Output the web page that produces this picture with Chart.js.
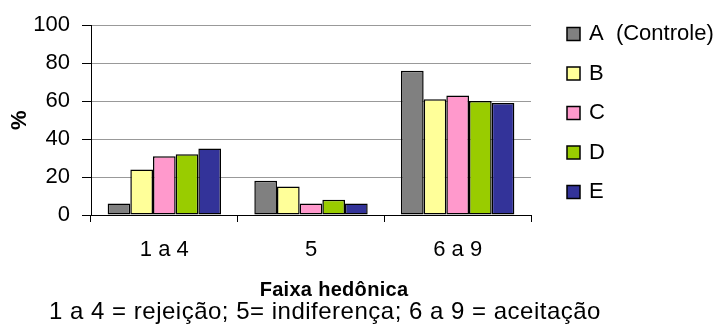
<!DOCTYPE html>
<html>
<head>
<meta charset="utf-8">
<script src="https://cdn.jsdelivr.net/npm/chart.js@4.4.1/dist/chart.umd.min.js"></script>
<style>
  html, body { margin: 0; padding: 0; background: #ffffff; }
  canvas { display: block; }
</style>
</head>
<body>
<canvas id="chart" width="719" height="327"></canvas>
<script>
// Hedonic-scale distribution (%) per sample
const categories = ['1 a 4', '5', '6 a 9'];
const seriesNames = ['A  (Controle)', 'B', 'C', 'D', 'E'];
const seriesA = [6, 18, 76];
const seriesB = [24, 15, 61];
const seriesC = [31, 6, 63];
const seriesD = [32, 8, 60];
const seriesE = [35, 6, 59];
const yTickValues = [0, 20, 40, 60, 80, 100];
const yTitle = '%';
const xTitle = 'Faixa hedônica';
const footnote = '1 a 4 = rejeição; 5= indiferença; 6 a 9 = aceitação';

const FONT = '"Liberation Sans", Arial, Helvetica, sans-serif';
const fills = ['#808080', '#FFFF99', '#FF99CC', '#99CC00', '#333399'];
const seriesValues = [seriesA, seriesB, seriesC, seriesD, seriesE];

const datasets = seriesValues.map((values, i) => ({
  label: seriesNames[i],
  data: values,
  backgroundColor: fills[i],
  borderColor: '#000000',
  borderWidth: 1.5,
  borderSkipped: false,
  barPercentage: 1.0,
  categoryPercentage: 0.773
}));

// Legend on the right: square swatch + series name
const sideLegend = {
  id: 'sideLegend',
  afterDraw(chart) {
    const ctx = chart.ctx;
    ctx.save();
    ctx.font = '22px ' + FONT;
    ctx.textBaseline = 'middle';
    ctx.textAlign = 'left';
    chart.data.datasets.forEach((ds, i) => {
      const cy = 34 + i * 39.5;
      ctx.fillStyle = ds.backgroundColor;
      ctx.fillRect(567, cy - 6.5, 13, 13);
      ctx.lineWidth = 1.5;
      ctx.strokeStyle = '#000000';
      ctx.strokeRect(567, cy - 6.5, 13, 13);
      ctx.fillStyle = '#000000';
      ctx.fillText(ds.label, 589, cy);
    });
    ctx.restore();
  }
};

// Axis title and explanatory line below the category axis
const bottomTexts = {
  id: 'bottomTexts',
  afterDraw(chart) {
    const ctx = chart.ctx;
    ctx.save();
    ctx.textBaseline = 'middle';
    ctx.textAlign = 'center';
    ctx.fillStyle = '#000000';
    ctx.letterSpacing = '0.3px';
    ctx.font = 'bold 20px ' + FONT;
    ctx.fillText(xTitle, 334, 290);
    ctx.letterSpacing = '0.5px';
    ctx.font = '24px ' + FONT;
    ctx.fillText(footnote, 325, 312);
    ctx.restore();
  }
};

new Chart(document.getElementById('chart'), {
  type: 'bar',
  data: { labels: categories, datasets },
  plugins: [sideLegend, bottomTexts],
  options: {
    responsive: false,
    animation: false,
    devicePixelRatio: 1,
    layout: { padding: { left: 0, right: 188, top: 23.5, bottom: 0 } },
    plugins: {
      legend: { display: false },
      tooltip: { enabled: false },
      title: { display: false }
    },
    scales: {
      x: {
        offset: true,
        grid: {
          offset: true,
          drawOnChartArea: false,
          drawTicks: true,
          tickLength: 7,
          tickColor: '#000000',
          color: '#000000'
        },
        border: { display: true, color: '#000000', width: 1 },
        ticks: {
          color: '#000000',
          font: { family: FONT, size: 22 },
          padding: 15,
          maxRotation: 0
        },
        afterFit(scale) { scale.height = 112; }
      },
      y: {
        min: 0,
        max: 100,
        afterBuildTicks(scale) { scale.ticks = yTickValues.map(v => ({ value: v })); },
        grid: {
          color: '#999999',
          lineWidth: 1,
          drawTicks: true,
          tickLength: 9,
          tickColor: '#000000'
        },
        border: { display: true, color: '#000000', width: 1 },
        ticks: {
          color: '#000000',
          font: { family: FONT, size: 22 },
          padding: 12
        },
        title: {
          display: true,
          text: yTitle,
          color: '#000000',
          font: { family: FONT, size: 22, weight: 'bold', lineHeight: 1 },
          padding: { top: 9, bottom: 0 }
        },
        afterFit(scale) { scale.width = 91; }
      }
    }
  }
});
</script>
</body>
</html>
